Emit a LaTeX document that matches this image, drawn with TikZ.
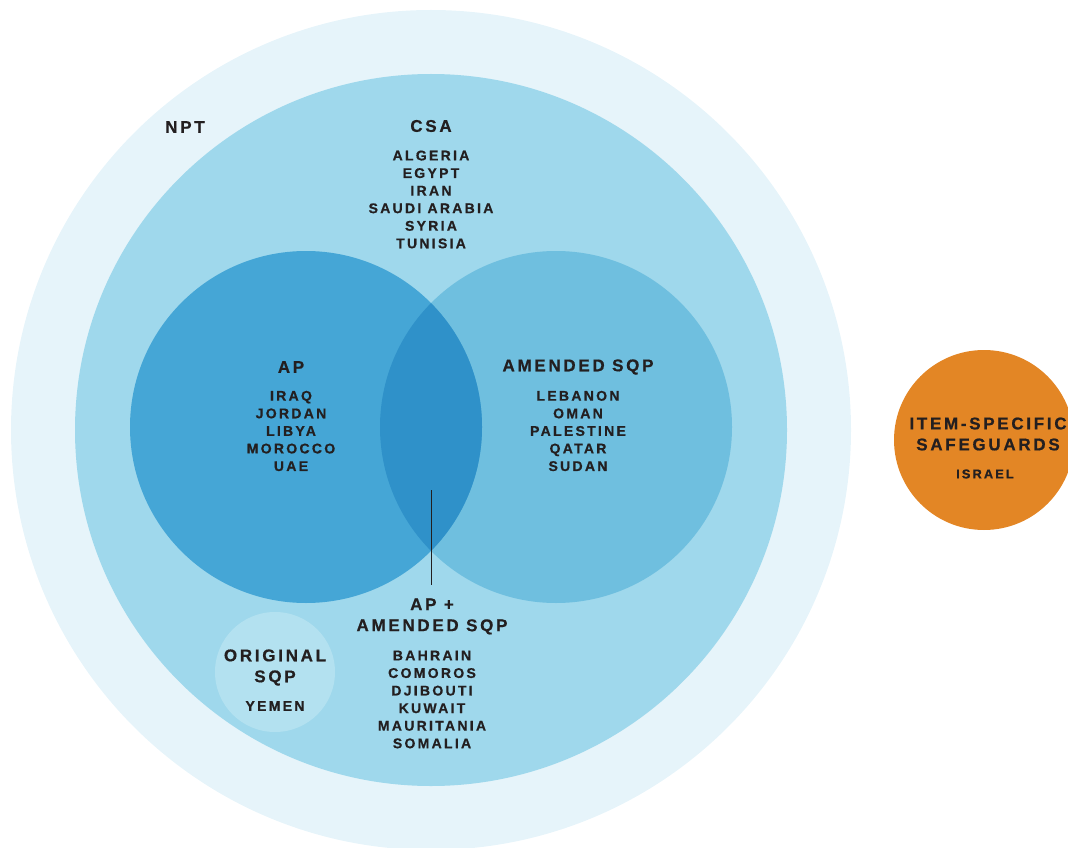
\documentclass[tikz,border=0pt]{standalone}
\usepackage{fontspec}
\newfontfamily\labfont{Liberation Sans}[LetterSpace=16,BoldFeatures={FakeBold=0.6}]
\usepackage{tikz}
\definecolor{nptblue}{HTML}{E6F4FA}
\definecolor{csablue}{HTML}{9FD8EC}
\definecolor{apblue}{HTML}{45A6D6}
\definecolor{sqpblue}{HTML}{6FBFDF}
\definecolor{bothblue}{HTML}{2F91C9}
\definecolor{origblue}{HTML}{B3E1F0}
\definecolor{isorange}{HTML}{E38625}
\definecolor{ink}{HTML}{231F20}
\tikzset{
  head/.style={text=ink,align=center,font=\labfont\bfseries\fontsize{14.5}{17.9}\selectfont},
  list/.style={text=ink,align=center,font=\labfont\bfseries\fontsize{12}{15}\selectfont}
}

\begin{document}
\begin{tikzpicture}[x=0.03cm,y=-0.03cm]

\useasboundingbox (0,0) rectangle (1068,848);
\clip (0,0) rectangle (1068,848);

\coordinate (c0) at (431,430);
\coordinate (c1) at (306,427);
\coordinate (c2) at (556,427);
\coordinate (c3) at (275,672);
\coordinate (c4) at (984,440);

% circles
\fill[nptblue] (c0) circle (420);
\fill[csablue] (c0) circle (356);
\fill[sqpblue] (c2) circle (176);
\fill[apblue] (c1) circle (176);
\begin{scope}
\clip (c1) circle (176);
\fill[bothblue] (c2) circle (176);
\end{scope}
\fill[origblue] (c3) circle (60);
\fill[isorange] (c4) circle (90);

% labels
\node[head] (npt) at (185,127) {NPT};
\node[head] (csa) at (431,126) {CSA};
\node[list] (csalist) at (431,199.5) {ALGERIA\\EGYPT\\IRAN\\SAUDI ARABIA\\SYRIA\\TUNISIA};

\node[head] (ap) at (291,367) {AP};
\node[list] (aplist) at (291,431) {IRAQ\\JORDAN\\LIBYA\\MOROCCO\\UAE};

\node[head] (sqp) at (578,367) {AMENDED SQP};
\node[list] (sqplist) at (578,431) {LEBANON\\OMAN\\PALESTINE\\QATAR\\SUDAN};

\node[head] (both) at (432,616.5) {AP +\\AMENDED SQP};
\node[list] (bothlist) at (432,699.5) {BAHRAIN\\COMOROS\\DJIBOUTI\\KUWAIT\\MAURITANIA\\SOMALIA};

\node[head] (orig) at (275,667.5) {ORIGINAL\\SQP};
\node[list] (origlist) at (275,706) {YEMEN};

\node[head] (item) at (988,434) {ITEM-SPECIFIC\\SAFEGUARDS};
\node[list,font=\labfont\bfseries\fontsize{11}{14}\selectfont] (itemlist) at (985,474) {ISRAEL};

% pointer
\coordinate (p0) at (431,490);
\coordinate (p1) at (431,585);
\draw[ink,line width=0.6pt] (p0) -- (p1);

\end{tikzpicture}
\end{document}
